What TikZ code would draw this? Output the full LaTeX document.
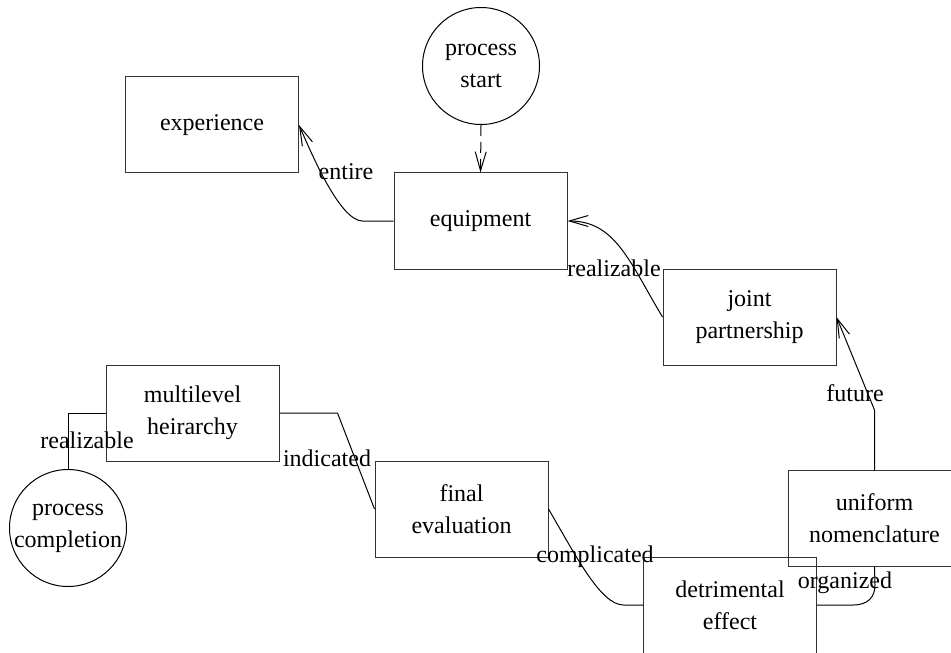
\documentclass[tikz,border=0pt]{standalone}
\usepackage{fontspec}
\setmainfont{Liberation Serif}
\usetikzlibrary{arrows.meta}

\begin{document}
\begin{tikzpicture}[x=0.5pt, y=-0.5pt,
    every node/.style={font=\fontsize{12}{16}\selectfont},
    box/.style={draw=black!80, line width=0.5pt, minimum width=86.5pt, minimum height=48pt, align=center, inner sep=0pt},
    terminal/.style={draw, circle, line width=0.5pt, minimum size=58.5pt, align=center, inner sep=-4pt},
    link/.style={line width=0.5pt},
    arrowlink/.style={link, -{Straight Barb[length=9.5pt, width=5.5pt]}}]

            % Fix the page size
            \useasboundingbox (0,0) rectangle (951,652);
            \clip (0,0) rectangle (951,652);

            % Draw the start and end states
            \node[terminal] (start) at (481,66) {process\\start};
            \node[terminal] (completion) at (68,528) {process\\completion};

            % Draw the steps
            \node[box] (experience) at (212,125) {experience};
            \node[box] (equipment) at (480.5,221) {equipment};
            \node[box] (joint) at (749.5,317) {joint\\partnership};
            \node[box] (multilevel) at (192.5,413) {multilevel\\heirarchy};
            \node[box] (final) at (461.5,509) {final\\evaluation};
            \node[box] (uniform) at (874.5,518.5) {uniform\\nomenclature};
            \node[box] (detrimental) at (730,605) {detrimental\\effect};

            % Draw the connectors
            \draw[arrowlink, dash pattern=on 5.5pt off 3pt] (start.south) -- (equipment.north);
            \draw[arrowlink] (equipment.west) -- ++(-31,0) .. controls +(-23,0) and +(11,25) .. (experience.east)
                node (entire) at (346,172) {entire};
            \draw[arrowlink] (joint.west) .. controls +(-33,-55) and +(48,0) .. (equipment.east)
                node (realizabletop) at (614,268) {realizable};
            \draw[arrowlink] (uniform.north) -- ++(0,-60) -- (joint.east)
                node (future) at (855,393) {future};
            \draw[link] (detrimental.east) -- ++(36,0) .. controls +(15,0) and +(0,12) .. ++(22,-20) -- (uniform.south)
                node (organized) at (845,583) {organized};
            \draw[link] (final.east) .. controls +(27,46) and +(-23,0) .. ++(75,96) -- (detrimental.west)
                node (complicated) at (595,557) {complicated};
            \draw[link] (multilevel.east) -- ++(58,0) -- (final.west)
                node (indicated) at (327,458) {indicated};
            \draw[link] (multilevel.west) -| (completion.north)
                node (realizablebottom) at (87,440) {realizable};

        \end{tikzpicture}
\end{document}
